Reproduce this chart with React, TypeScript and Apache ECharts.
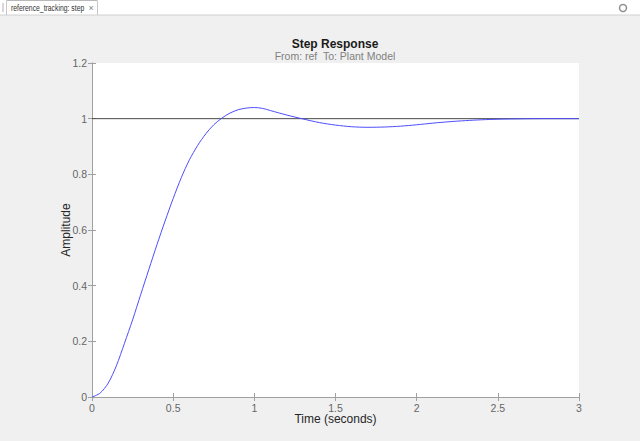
import React, { useEffect, useRef } from "react";
import * as echarts from "echarts";

const timeValues = [0, 0.05, 0.1, 0.15, 0.2, 0.25, 0.3, 0.35, 0.4, 0.45, 0.5, 0.55, 0.6, 0.65, 0.7, 0.75, 0.8, 0.85, 0.9, 0.95, 1.0, 1.05, 1.1, 1.2, 1.3, 1.4, 1.5, 1.6, 1.7, 1.8, 1.9, 2.0, 2.1, 2.2, 2.3, 2.4, 2.5, 2.6, 2.8, 3.0];
const amplitudeValues = [0, 0.014, 0.05, 0.112, 0.193, 0.277, 0.368, 0.458, 0.547, 0.632, 0.713, 0.788, 0.852, 0.903, 0.945, 0.978, 1.002, 1.02, 1.032, 1.038, 1.04, 1.037, 1.029, 1.013, 0.999, 0.986, 0.977, 0.971, 0.969, 0.97, 0.973, 0.978, 0.984, 0.989, 0.993, 0.996, 0.998, 0.999, 1.0, 1.0];
const referenceTimes = [0, 3];
const referenceValues = [1, 1];

const titleText = "Step Response";
const subtitleText = "From: ref  To: Plant Model";
const tabLabel = "reference_tracking: step";
const xAxisName = "Time (seconds)";
const yAxisName = "Amplitude";

const FONT = "'Liberation Sans', Arial, Helvetica, sans-serif";

export default function App() {
  const ref = useRef<HTMLDivElement>(null);
  useEffect(() => {
    if (!ref.current) return;
    const chart = echarts.init(ref.current, null, { renderer: "svg" });
    const axisLine = { show: true, lineStyle: { color: "#a0a0a0", width: 1 } };
    const tick = { show: true, inside: true, length: 4, lineStyle: { color: "#a0a0a0" } };
    chart.setOption({
      animation: false,
      backgroundColor: "#f0f0f0",
      textStyle: { fontFamily: FONT },
      title: {
        text: titleText,
        subtext: subtitleText,
        left: 335,
        top: 37,
        textAlign: "center",
        itemGap: 0,
        padding: 0,
        textStyle: { fontSize: 12, fontWeight: "bold", color: "#1a1a1a", fontFamily: FONT, lineHeight: 13 },
        subtextStyle: { fontSize: 10.5, color: "#808080", fontFamily: FONT, lineHeight: 12 },
      },
      grid: { left: 92, right: 61, top: 63, bottom: 44, show: true, backgroundColor: "#ffffff", borderWidth: 0 },
      xAxis: [
        {
          type: "value",
          min: 0,
          max: 3,
          interval: 0.5,
          position: "bottom",
          name: xAxisName,
          nameLocation: "middle",
          nameGap: 16,
          nameMoveOverlap: false,
          nameTextStyle: { fontSize: 12, color: "#262626", fontFamily: FONT, verticalAlign: "top" },
          axisLine,
          axisTick: tick,
          axisLabel: { color: "#666666", fontSize: 10.5, margin: 5, fontFamily: FONT },
          splitLine: { show: false },
        },
        {
          type: "value",
          min: 0,
          max: 3,
          interval: 0.5,
          position: "top",
          axisLine,
          axisTick: tick,
          axisLabel: { show: false },
          splitLine: { show: false },
        },
      ],
      yAxis: [
        {
          type: "value",
          min: 0,
          max: 1.2,
          interval: 0.2,
          position: "left",
          name: yAxisName,
          nameLocation: "middle",
          nameGap: 20,
          nameMoveOverlap: false,
          nameTextStyle: { fontSize: 12, color: "#262626", fontFamily: FONT },
          axisLine,
          axisTick: tick,
          axisLabel: { color: "#666666", fontSize: 10.5, margin: 5, fontFamily: FONT },
          splitLine: { show: false },
        },
        {
          type: "value",
          min: 0,
          max: 1.2,
          interval: 0.2,
          position: "right",
          axisLine,
          axisTick: tick,
          axisLabel: { show: false },
          splitLine: { show: false },
        },
      ],
      series: [
        {
          type: "line",
          data: referenceTimes.map((t, i) => [t, referenceValues[i]]),
          showSymbol: false,
          lineStyle: { color: "#4a4a4a", width: 1 },
          z: 2,
        },
        {
          type: "line",
          data: timeValues.map((t, i) => [t, amplitudeValues[i]]),
          smooth: 0.3,
          showSymbol: false,
          lineStyle: { color: "#4d4dff", width: 1 },
          z: 3,
        },
      ],
      graphic: [
        { type: "rect", shape: { x: 0, y: 0, width: 640, height: 15 }, style: { fill: "#ffffff" }, silent: true },
        { type: "line", shape: { x1: 0, y1: 15, x2: 640, y2: 15 }, style: { stroke: "#d0d0d0", lineWidth: 1 }, silent: true },
        { type: "line", shape: { x1: 3, y1: 3, x2: 3, y2: 12 }, style: { stroke: "#b0b0b0", lineWidth: 1 }, silent: true },
        { type: "line", shape: { x1: 6.5, y1: 1, x2: 6.5, y2: 15 }, style: { stroke: "#c8c8c8", lineWidth: 1 }, silent: true },
        { type: "line", shape: { x1: 97.5, y1: 1, x2: 97.5, y2: 15 }, style: { stroke: "#c8c8c8", lineWidth: 1 }, silent: true },
        { type: "line", shape: { x1: 6.5, y1: 0.5, x2: 97.5, y2: 0.5 }, style: { stroke: "#b8b8b8", lineWidth: 1 }, silent: true },
        {
          type: "text",
          x: 11,
          y: 8,
          scaleX: 0.72,
          style: { text: tabLabel, fontSize: 9.5, fill: "#333333", fontFamily: FONT, verticalAlign: "middle" },
          silent: true,
        },
        {
          type: "text",
          x: 91,
          y: 8,
          style: { text: "×", fontSize: 9, fill: "#808080", fontFamily: FONT, verticalAlign: "middle", align: "center" },
          silent: true,
        },
        { type: "circle", shape: { cx: 623, cy: 8, r: 3.5 }, style: { fill: "none", stroke: "#909090", lineWidth: 1.5 }, silent: true },
      ],
    });
    return () => chart.dispose();
  }, []);
  return (
    <div style={{ position: "fixed", left: 0, top: 0, width: 640, height: 441 }}>
      <div ref={ref} style={{ width: 640, height: 441 }} />
    </div>
  );
}
